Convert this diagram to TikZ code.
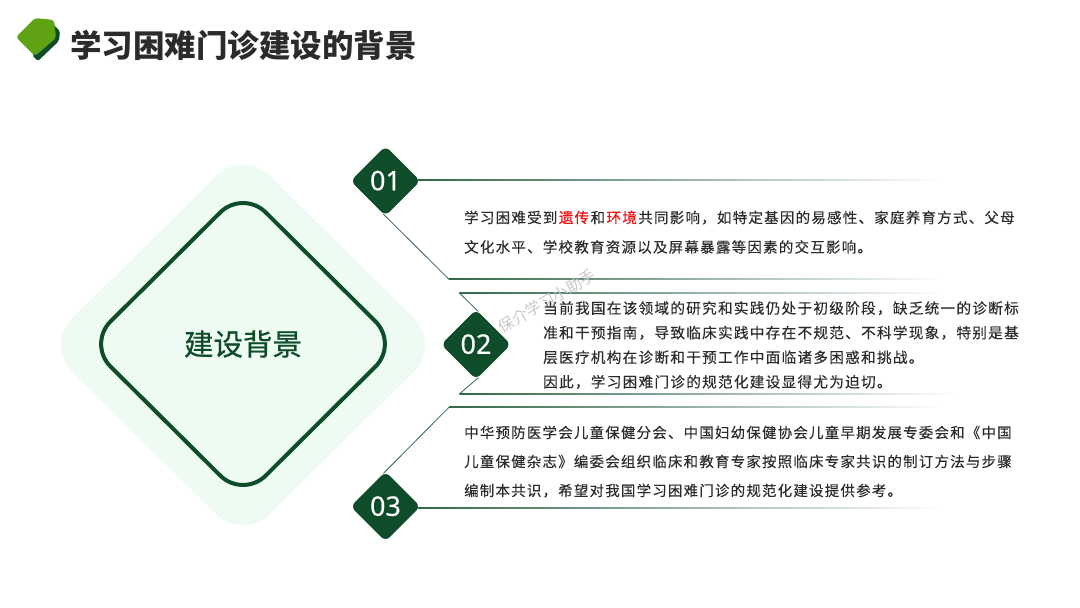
\documentclass[tikz,border=0pt]{standalone}
\usepackage{xcolor}
\usepackage{fontspec}
\usepackage{tikz}
\usetikzlibrary{shapes.geometric,positioning,calc}

\newfontfamily\cjk{Noto Sans CJK SC}
\newfontfamily\cjkmid[FakeBold=0.7]{Noto Sans CJK SC}
\newfontfamily\cjkbody[LetterSpace=8.5,FakeBold=0.25]{Noto Sans CJK SC}
\newfontfamily\cjkmark[LetterSpace=8.5,FakeBold=0.6]{Noto Sans CJK SC}
\newfontfamily\numfont[FakeBold=0.3]{Noto Sans}
\definecolor{deepgreen}{HTML}{0F4D2A}
\definecolor{leafgreen}{HTML}{5FA315}
\definecolor{palegreen}{HTML}{EEFBF2}
\definecolor{inkgray}{HTML}{2B2B2B}
\definecolor{markred}{HTML}{F01010}
\newcommand{\redword}[1]{\kern1.5pt{\cjkmark\color{markred}#1}\kern1.5pt}

\begin{document}
\begin{tikzpicture}[
    x=1pt, y=-1pt,
    gem/.style={shape=diamond, rounded corners=#1, inner sep=0pt},
    numgem/.style={gem=6pt, fill=deepgreen, minimum width=70pt, minimum height=70pt, text=white, font=\numfont\fontsize{27}{27}\selectfont},
    bodytext/.style={anchor=north west, align=left, inner sep=0pt, text=inkgray},
    edgeline/.style={draw=deepgreen!85!white, line width=0.8pt, shorten <=-3pt},
    fadeline/.style={left color=deepgreen!85!white, right color=white, draw=none}
]
    \useasboundingbox (0,0) rectangle (1080,608);

    % Title
    \fill[deepgreen, rounded corners=2pt] (32,55) -- (53,24) -- (60,31) -- (59,41) -- (38,61) -- cycle;
    \fill[leafgreen, rounded corners=3pt] (16,37) -- (35,18) -- (54,20) -- (56,38) -- (35,56) -- cycle;
    \node[anchor=west, inner sep=0pt, text=inkgray, font=\cjk\bfseries\fontsize{31.5}{31.5}\selectfont] (title) at (70,45) {学习困难门诊建设的背景};

    % Left emblem
    \node[gem=38pt, fill=palegreen, minimum width=396pt, minimum height=392pt] (halo) at (243,345) {};
    \node[gem=32pt, draw=deepgreen, line width=4pt, fill=palegreen, minimum width=312pt, minimum height=310pt,
        text=deepgreen, font=\cjkmid\fontsize{29.5}{29.5}\selectfont] (core) at (243,344) {建设背景};

    % Number badges
    \node[numgem] (num1) at (385.5,181) {\raisebox{1pt}{01}};
    \node[numgem] (num2) at (476,344.5) {\raisebox{1pt}{02}};
    \node[numgem] (num3) at (385.5,506.5) {\raisebox{1pt}{03}};

    % Ends and bends of the connectors
    \coordinate (start1) at ($(num1.east)+(-3,0)$);
    \coordinate (start3) at ($(num3.east)+(-3,0)$);
    \coordinate (bend1) at (449,279.3);
    \coordinate (bend2a) at (459.3,292.8);
    \coordinate (bend2b) at (459.3,394);
    \coordinate (bend3) at (449,407.3);
    \coordinate (end1a) at (945,180);
    \coordinate (end1b) at (945,279.3);
    \coordinate (end2a) at (945,292.8);
    \coordinate (end2b) at (960,394);
    \coordinate (end3a) at (945,407.3);
    \coordinate (end3b) at (945,508);

    % Slanted parts
    \draw[edgeline] (num1.south) -- (bend1);
    \draw[edgeline] (num2.north) -- (bend2a);
    \draw[edgeline] (num2.south) -- (bend2b);
    \draw[edgeline] (num3.north) -- (bend3);

    % Fading parts
    \foreach \from/\to in {start1/end1a, bend1/end1b, bend2a/end2a, bend2b/end2b, bend3/end3a, start3/end3b}
        \shade[fadeline] ($(\from |- \to)+(0,-0.4)$) rectangle ($(\to)+(0,0.4)$);

    % Texts
    \node[bodytext, font=\cjkbody\fontsize{14.5}{29.5}\selectfont] (text1) at (464,210.5) {学习困难受到\redword{遗传}和\redword{环境}共同影响，如特定基因的易感性、家庭养育方式、父母\\文化水平、学校教育资源以及屏幕暴露等因素的交互影响。};
    \node[bodytext, font=\cjkbody\fontsize{14.65}{24.6}\selectfont] (text2) at (543,301) {当前我国在该领域的研究和实践仍处于初级阶段，缺乏统一的诊断标\\准和干预指南，导致临床实践中存在不规范、不科学现象，特别是基\\层医疗机构在诊断和干预工作中面临诸多困惑和挑战。\\因此，学习困难门诊的规范化建设显得尤为迫切。};
    \node[bodytext, font=\cjkbody\fontsize{14.45}{29}\selectfont] (text3) at (464,425.5) {中华预防医学会儿童保健分会、中国妇幼保健协会儿童早期发展专委会和《中国\\儿童保健杂志》编委会组织临床和教育专家按照临床专家共识的制订方法与步骤\\编制本共识，希望对我国学习困难门诊的规范化建设提供参考。};

    % Watermark
    \node[rotate=30, text=black!22, font=\cjk\fontsize{15.5}{15.5}\selectfont, inner sep=0pt] (mark) at (547,301) {保介学习小助手};
\end{tikzpicture}
\end{document}
